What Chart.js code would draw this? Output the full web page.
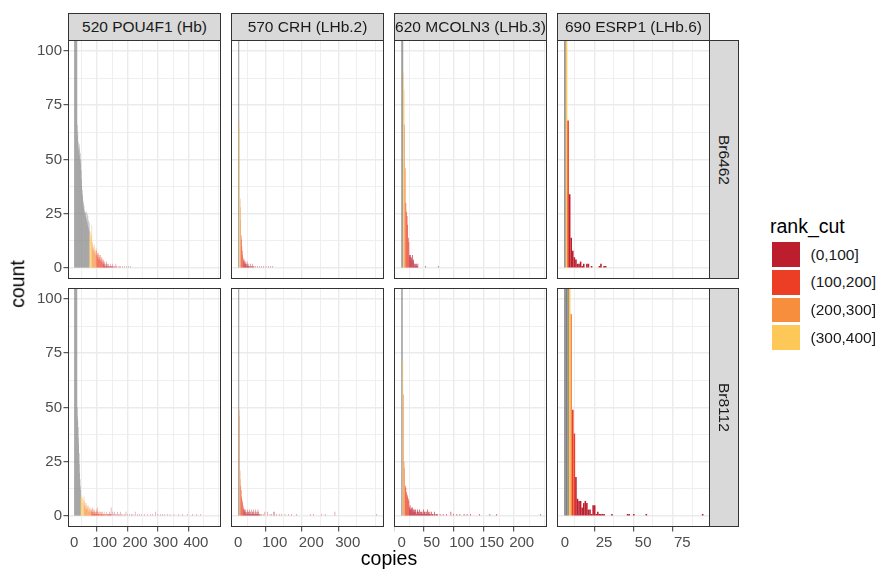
<!DOCTYPE html>
<html>
<head>
<meta charset="utf-8">
<title>copies per cell by rank_cut</title>
<script src="https://cdn.jsdelivr.net/npm/chart.js@4.4.1/dist/chart.umd.min.js"></script>
<style>
  html, body { margin: 0; padding: 0; background: #ffffff; }
  #fig { position: relative; width: 879px; height: 569px; overflow: hidden;
         font-family: "Liberation Sans", Arial, Helvetica, sans-serif; background: #ffffff; }
  #fig canvas { position: absolute; }
  .strip { position: absolute; box-sizing: border-box; background: #D9D9D9; border: 1px solid #333333;
           color: #1A1A1A; font-size: 15.5px; display: flex; align-items: center; justify-content: center;
           white-space: nowrap; overflow: hidden; }
  .strip.right { writing-mode: vertical-rl; }
  .label { position: absolute; white-space: nowrap; line-height: 1; }
  .key { position: absolute; }
</style>
</head>
<body>
<div id="fig"></div>
<script>
// ---- facets, legend levels and axis breaks ----
const donors = ['Br6462', 'Br8112'];
const genes = ['520 POU4F1 (Hb)', '570 CRH (LHb.2)', '620 MCOLN3 (LHb.3)', '690 ESRP1 (LHb.6)'];
const rankCuts = ['(0,100]', '(100,200]', '(200,300]', '(300,400]'];
const countTicks = [0, 25, 50, 75, 100];
const copiesTicksPOU4F1 = [0, 100, 200, 300, 400];
const copiesTicksCRH = [0, 100, 200, 300];
const copiesTicksMCOLN3 = [0, 50, 100, 150, 200];
const copiesTicksESRP1 = [0, 25, 50, 75];

// ---- histogram counts: cells per copy number (index = copies), then a sparse tail ----
// cuts: first copy number of (300,400], (200,300], (100,200], (0,100]; below the first cut rank_cut is NA
const br6462_POU4F1 = [
  118, 164, 178, 171, 160, 149, 137, 126, 117, 108,
  66, 61, 63, 58, 56, 54, 57, 52, 55, 50,
  53, 48, 50, 45, 41, 38, 36, 33, 34, 31,
  30, 28, 29, 26, 27, 25, 26, 24, 25, 22,
  26, 23, 21, 25, 20, 24, 19, 22, 18, 21,
  17, 16, 15, 17, 14, 16, 13, 15, 20, 11,
  9, 12, 8, 10, 9, 7, 11, 8, 9, 6,
  8, 7, 9, 6, 8, 6, 7, 5, 6, 4,
  7, 5, 6, 4, 5, 3, 6, 4, 5, 3,
  4, 5, 3, 4, 2, 4, 3, 2, 1, 2,
  3, 1, 2, 0, 1, 2, 1, 3, 1, 0,
  2, 1, 1, 2, 0, 1, 1, 0, 2, 1,
  0, 1, 1, 0, 1, 2, 0, 1, 0, 1];
const br6462_POU4F1_tailCopies = [131, 134, 137, 140, 144, 149, 153, 158, 164, 171, 178, 185];
const br6462_POU4F1_tailCounts = [1, 1, 2, 1, 1, 1, 1, 1, 1, 1, 1, 1];
const br6462_POU4F1_cuts = [51, 58, 74, 96];

const br8112_POU4F1 = [
  132, 198, 221, 209, 188, 171, 152, 133, 118, 107,
  50, 46, 44, 41, 36, 33, 29, 24, 20, 17,
  14, 12, 9, 8, 10, 7, 9, 8, 6, 8,
  7, 6, 9, 5, 7, 4, 6, 3, 5, 4,
  6, 3, 4, 5, 3, 4, 2, 5, 3, 4,
  2, 3, 4, 2, 3, 2, 3, 3, 2, 4,
  1, 2, 3, 1, 2, 2, 1, 3, 2, 1,
  2, 1, 3, 1, 2, 1, 2, 4, 1, 1,
  2, 1, 0, 2, 1, 1, 2, 0, 1, 2,
  1, 1, 0, 2, 1, 1, 0, 1, 2, 0,
  1, 1, 0, 1, 0, 2, 1, 0, 1, 1,
  0, 1, 0, 1, 1, 0, 1, 2, 1, 0,
  1];
const br8112_POU4F1_tailCopies = [121, 124, 127, 130, 132, 135, 138, 141, 145, 148, 152, 156, 160, 165, 170,
  175, 181, 187, 193, 200, 207, 214, 222, 231, 240, 250, 258, 266, 275, 283, 290, 298, 306, 315, 328,
  342, 357, 372, 388, 403, 415];
const br8112_POU4F1_tailCounts = [4, 1, 2, 1, 2, 1, 1, 2, 1, 1, 2, 1, 1, 1, 2,
  1, 1, 1, 1, 2, 1, 1, 1, 1, 1, 1, 1, 2, 1, 1, 1, 1, 1, 1, 1,
  1, 1, 1, 1, 1, 1];
const br8112_POU4F1_cuts = [22, 32, 57, 117];

const br6462_CRH = [
  260, 180, 140, 68, 64, 32, 28, 22, 15, 13,
  10, 8, 6, 5, 4, 3, 4, 3, 2, 3,
  2, 2, 1, 2, 3, 1, 2, 1, 1, 2,
  0, 1, 1, 2, 0, 1, 1, 0, 2, 1, 0, 1];
const br6462_CRH_tailCopies = [43, 47, 52, 58, 63, 70, 76, 83, 88, 93];
const br6462_CRH_tailCounts = [1, 1, 1, 1, 1, 1, 1, 1, 1, 1];
const br6462_CRH_cuts = [3, 5, 8, 14];

const br8112_CRH = [
  280, 190, 150, 49, 46, 21, 17, 14, 12, 9,
  8, 7, 6, 5, 3, 4, 2, 3, 3, 2,
  3, 1, 2, 1, 2, 1, 3, 2, 1, 2,
  1, 3, 2, 1, 2, 1, 1, 3, 2, 1,
  2, 1, 3, 2, 1, 1, 2, 1, 3, 2,
  1, 1, 2, 1, 3, 1, 2, 1, 1, 0, 1];
const br8112_CRH_tailCopies = [64, 68, 73, 80, 87, 92, 96, 99, 105, 112, 119, 128, 137, 146, 160, 197, 206, 229, 238, 265, 379];
const br8112_CRH_tailCounts = [1, 1, 2, 2, 1, 1, 2, 2, 1, 1, 1, 1, 1, 1, 1, 1, 1, 1, 1, 2, 1];
const br8112_CRH_cuts = [3, 3, 7, 14];

const br6462_MCOLN3 = [
  290, 240, 160, 90, 82, 66, 46, 30, 26, 24,
  20, 14, 12, 6, 5, 6, 5, 4, 6, 3,
  4, 2, 1, 2, 1, 2, 1, 2];
const br6462_MCOLN3_tailCopies = [40, 61];
const br6462_MCOLN3_tailCounts = [1, 1];
const br6462_MCOLN3_cuts = [3, 5, 7, 13];

const br8112_MCOLN3 = [
  300, 230, 72, 56, 25, 22, 14, 13, 11, 10,
  9, 8, 7, 4, 5, 3, 4, 3, 4, 2,
  3, 3, 2, 3, 2, 1, 3, 2, 2, 1,
  3, 2, 1, 2, 2, 1, 3, 1, 2, 2,
  1, 2, 1, 3, 1, 2, 1, 2, 1, 0,
  2, 1, 1, 0, 1, 2, 0, 1, 1, 0, 1];
const br8112_MCOLN3_tailCopies = [64, 69, 75, 82, 86, 92, 97, 104, 109, 115, 130, 147, 158, 231];
const br8112_MCOLN3_tailCounts = [1, 1, 1, 2, 1, 1, 1, 1, 1, 1, 1, 1, 1, 1];
const br8112_MCOLN3_cuts = [2, 3, 6, 13];

const br6462_ESRP1 = [
  240, 175, 68, 34, 14, 8, 5, 4, 2, 2,
  3, 1, 2, 0, 2, 2, 0, 1, 0, 0,
  0, 0, 1, 2, 0, 1, 1];
const br6462_ESRP1_tailCopies = [];
const br6462_ESRP1_tailCounts = [];
const br6462_ESRP1_cuts = [1, 2, 2, 3];

const br8112_ESRP1 = [
  310, 260, 190, 160, 93, 49, 38, 18, 8, 7,
  7, 4, 6, 7, 6, 3, 3, 1, 5, 5,
  1, 2, 1, 1, 1, 1];
const br8112_ESRP1_tailCopies = [30, 40, 41, 44, 52, 88];
const br8112_ESRP1_tailCounts = [1, 1, 1, 1, 1, 1];
const br8112_ESRP1_cuts = [3, 4, 5, 7];

// ---- styling ----
const RANK_FILL = ['#BC1E2D', '#EC3D25', '#F68E3E', '#FDC857'];   // same order as rankCuts
const NA_FILL = '#808080';
const FONT = "'Liberation Sans', Arial, Helvetica, sans-serif";

// ---- layout of the facet grid ----
const PANEL_LEFT = [68, 231, 394, 557];
const PANEL_TOP = [40, 288];
const PANEL_W = 153, PANEL_H = 239;
const Y_AXIS_W = 68;
const X_AXIS_H = 30;
const X_LIMITS = [[-20.7, 482.6], [-20.0, 399.5], [-12.8, 242.2], [-5.1, 92.7]];
const Y_LIMITS = [-5, 105];

const copiesTicks = [copiesTicksPOU4F1, copiesTicksCRH, copiesTicksMCOLN3, copiesTicksESRP1];
const panels = [
  [
    { counts: br6462_POU4F1, tc: br6462_POU4F1_tailCopies, tn: br6462_POU4F1_tailCounts, cuts: br6462_POU4F1_cuts },
    { counts: br6462_CRH, tc: br6462_CRH_tailCopies, tn: br6462_CRH_tailCounts, cuts: br6462_CRH_cuts },
    { counts: br6462_MCOLN3, tc: br6462_MCOLN3_tailCopies, tn: br6462_MCOLN3_tailCounts, cuts: br6462_MCOLN3_cuts },
    { counts: br6462_ESRP1, tc: br6462_ESRP1_tailCopies, tn: br6462_ESRP1_tailCounts, cuts: br6462_ESRP1_cuts }
  ],
  [
    { counts: br8112_POU4F1, tc: br8112_POU4F1_tailCopies, tn: br8112_POU4F1_tailCounts, cuts: br8112_POU4F1_cuts },
    { counts: br8112_CRH, tc: br8112_CRH_tailCopies, tn: br8112_CRH_tailCounts, cuts: br8112_CRH_cuts },
    { counts: br8112_MCOLN3, tc: br8112_MCOLN3_tailCopies, tn: br8112_MCOLN3_tailCounts, cuts: br8112_MCOLN3_cuts },
    { counts: br8112_ESRP1, tc: br8112_ESRP1_tailCopies, tn: br8112_ESRP1_tailCounts, cuts: br8112_ESRP1_cuts }
  ]
];

const fig = document.getElementById('fig');

function fillFor(copies, cuts) {
  const level = cuts.filter(t => copies >= t).length;
  return level === 0 ? NA_FILL : RANK_FILL[4 - level];
}

function buildBars(p) {
  const pts = [], fills = [];
  const add = (c, n) => {
    if (n > 0) { pts.push({ x: c, y: n }); fills.push(fillFor(c, p.cuts)); }
  };
  p.counts.forEach((n, c) => add(c, n));
  p.tc.forEach((c, i) => add(c, p.tn[i]));
  return { pts, fills };
}

const isMajor = (list, v) => list.some(t => Math.abs(t - v) < 1e-6);

// panel border drawn on top of the bars
const panelBorder = {
  id: 'panelBorder',
  afterDraw(chart) {
    const a = chart.chartArea, ctx = chart.ctx;
    ctx.save();
    ctx.strokeStyle = '#333333';
    ctx.lineWidth = 1;
    ctx.strokeRect(a.left + 0.5, a.top + 0.5, a.right - a.left - 1, a.bottom - a.top - 1);
    ctx.restore();
  }
};

function axisOptions(breaks, showLabels, lim, fitSize, horizontal) {
  const step = breaks[1] - breaks[0];
  return {
    type: 'linear',
    min: lim[0], max: lim[1],
    offset: false,
    afterFit: s => {
      if (horizontal) s.height = fitSize; else s.width = fitSize;
      s.paddingTop = 0; s.paddingBottom = 0; s.paddingLeft = 0; s.paddingRight = 0;
    },
    border: { display: false },
    grid: {
      color: '#EBEBEB',
      lineWidth: ctx => (ctx.tick && isMajor(breaks, ctx.tick.value)) ? 1.4 : 0.8,
      drawTicks: showLabels,
      tickLength: 4.5,
      tickWidth: 1,
      tickColor: ctx => (ctx.tick && isMajor(breaks, ctx.tick.value)) ? '#333333' : 'rgba(0,0,0,0)'
    },
    ticks: {
      display: showLabels,
      stepSize: step / 2,
      includeBounds: false,
      autoSkip: false,
      maxRotation: 0,
      minRotation: 0,
      padding: horizontal ? 2 : 1.5,
      color: '#4D4D4D',
      font: { family: FONT, size: 15 },
      callback: v => isMajor(breaks, v) ? String(v) : ''
    }
  };
}

for (let r = 0; r < 2; r++) {
  for (let c = 0; c < 4; c++) {
    const showY = c === 0, showX = r === 1;
    const canvas = document.createElement('canvas');
    const left = showY ? PANEL_LEFT[c] - Y_AXIS_W : PANEL_LEFT[c];
    const w = PANEL_W + (showY ? Y_AXIS_W : 0);
    const h = PANEL_H + (showX ? X_AXIS_H : 0);
    canvas.width = w; canvas.height = h;
    canvas.style.left = left + 'px';
    canvas.style.top = PANEL_TOP[r] + 'px';
    canvas.style.width = w + 'px';
    canvas.style.height = h + 'px';
    fig.appendChild(canvas);

    const bars = buildBars(panels[r][c]);
    new Chart(canvas, {
      type: 'bar',
      data: {
        datasets: [{
          label: donors[r] + ' ' + genes[c],
          data: bars.pts,
          backgroundColor: bars.fills,
          borderWidth: 0,
          inflateAmount: 0,
          barPercentage: 1,
          categoryPercentage: 1
        }]
      },
      options: {
        responsive: false,
        maintainAspectRatio: false,
        animation: false,
        devicePixelRatio: 1,
        layout: { padding: 0, autoPadding: false },
        plugins: { legend: { display: false }, tooltip: { enabled: false } },
        scales: {
          x: axisOptions(copiesTicks[c], showX, X_LIMITS[c], showX ? X_AXIS_H : 0, true),
          y: axisOptions(countTicks, showY, Y_LIMITS, showY ? Y_AXIS_W : 0, false)
        }
      },
      plugins: [panelBorder]
    });
  }
}

// facet strips
genes.forEach((g, c) => {
  const s = document.createElement('div');
  s.className = 'strip';
  s.style.left = PANEL_LEFT[c] + 'px';
  s.style.top = '13px';
  s.style.width = PANEL_W + 'px';
  s.style.height = (PANEL_TOP[0] - 13 + 1) + 'px';
  s.textContent = g;
  fig.appendChild(s);
});
donors.forEach((d, r) => {
  const s = document.createElement('div');
  s.className = 'strip right';
  s.style.left = (PANEL_LEFT[3] + PANEL_W - 1) + 'px';
  s.style.top = PANEL_TOP[r] + 'px';
  s.style.width = '30px';
  s.style.height = PANEL_H + 'px';
  s.textContent = d;
  fig.appendChild(s);
});

// axis titles
function addLabel(text, x, y, size, color, rotate) {
  const el = document.createElement('div');
  el.className = 'label';
  el.textContent = text;
  el.style.fontSize = size + 'px';
  el.style.color = color;
  el.style.left = x + 'px';
  el.style.top = y + 'px';
  el.style.transform = 'translate(-50%, -50%)' + (rotate ? ' rotate(' + rotate + 'deg)' : '');
  fig.appendChild(el);
  return el;
}
addLabel('count', 18, 283.5, 19.5, '#000000', -90);
addLabel('copies', 389, 559, 19.5, '#000000', 0);

// legend
const legTitle = document.createElement('div');
legTitle.className = 'label';
legTitle.textContent = 'rank_cut';
legTitle.style.fontSize = '19.5px';
legTitle.style.left = '770px';
legTitle.style.top = '227px';
legTitle.style.transform = 'translateY(-50%)';
fig.appendChild(legTitle);

rankCuts.forEach((lvl, i) => {
  const top = 242.3 + i * 27.7;
  const k = document.createElement('div');
  k.className = 'key';
  k.style.left = '771.5px';
  k.style.top = top + 'px';
  k.style.width = '28px';
  k.style.height = '24.5px';
  k.style.background = RANK_FILL[i];
  fig.appendChild(k);
  const t = document.createElement('div');
  t.className = 'label';
  t.textContent = lvl;
  t.style.fontSize = '15.5px';
  t.style.color = '#1A1A1A';
  t.style.left = '810.5px';
  t.style.top = (top + 12.25) + 'px';
  t.style.transform = 'translateY(-50%)';
  fig.appendChild(t);
});
</script>
</body>
</html>
